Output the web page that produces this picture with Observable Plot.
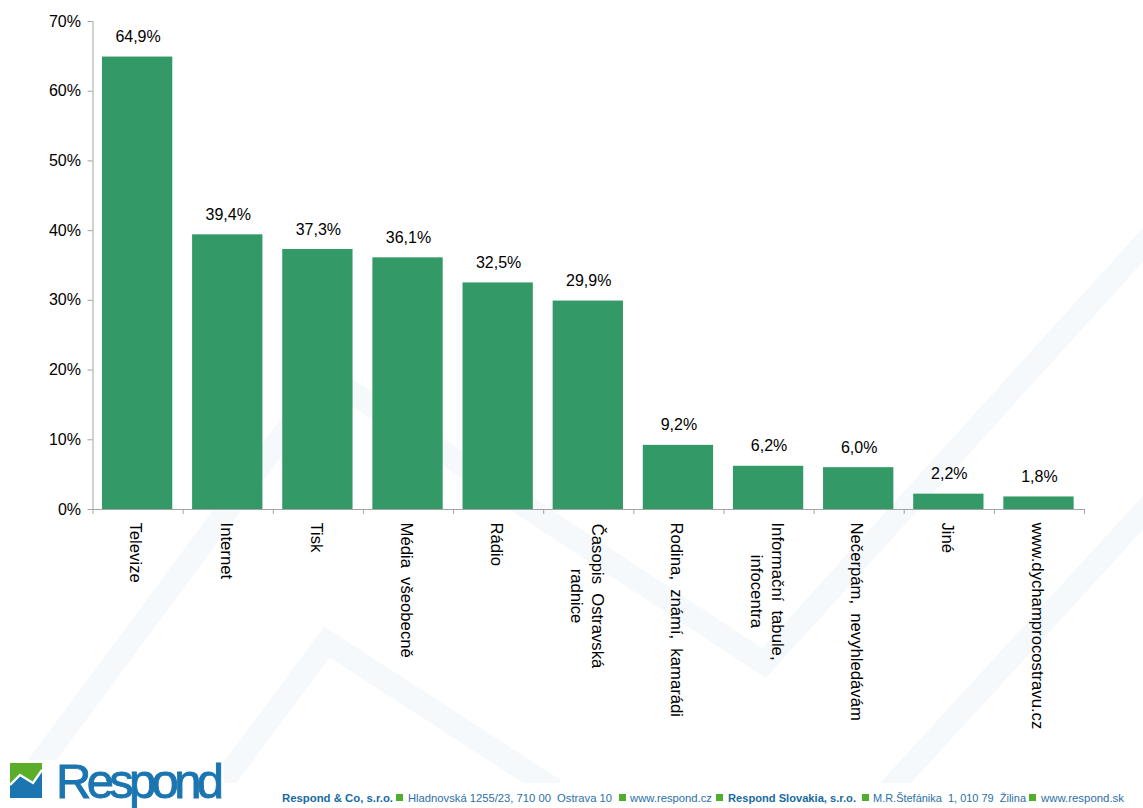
<!DOCTYPE html>
<html lang="cs">
<head>
<meta charset="utf-8">
<title>Zdroje informací</title>
<script src="https://cdn.jsdelivr.net/npm/d3@7"></script>
<script src="https://cdn.jsdelivr.net/npm/@observablehq/plot@0.6"></script>
<style>
  html, body { margin: 0; padding: 0; background: #fff; }
  #page { position: relative; width: 1143px; height: 808px; overflow: hidden; word-spacing: 4.5px; }
  #page > svg { position: absolute; left: 0; top: 0; }
</style>
</head>
<body>
<div id="page"></div>
<script>
// Information sources, share of respondents in percent
const categories = [
  "Televize", "Internet", "Tisk", "Média všeobecně", "Rádio",
  "Časopis Ostravská\nradnice", "Rodina, známí, kamarádi",
  "Informační tabule,\ninfocentra", "Nečerpám, nevyhledávám",
  "Jiné", "www.dychamprocostravu.cz"
];
const values = [64.9, 39.4, 37.3, 36.1, 32.5, 29.9, 9.2, 6.2, 6.0, 2.2, 1.8];
const yTicks = [0, 10, 20, 30, 40, 50, 60, 70];

const rows = categories.map((name, i) => ({name, value: values[i], i}));
const singleLine = rows.filter((d) => !d.name.includes("\n"));
const wrapped = rows.filter((d) => d.name.includes("\n"));

// Company footer, split into runs of plain and bold text
const footerRuns = [
  {text: "Respond & Co, s.r.o.", x: 282, w: 111, bold: true},
  {text: "Hladnovská 1255/23, 710 00  Ostrava 10", x: 408, w: 204},
  {text: "www.respond.cz", x: 630, w: 82},
  {text: "Respond Slovakia, s.r.o.", x: 728, w: 128, bold: true},
  {text: "M.R.Štefánika  1, 010 79  Žilina", x: 873, w: 153},
  {text: "www.respond.sk", x: 1041, w: 83}
];
const footerSquares = [396, 619, 716, 862, 1029];

const page = d3.select("#page");
const axisColor = "#a3a3a3";
const font = "'Liberation Sans', Arial, sans-serif";

// Decorative layer behind the chart: the pale zigzag, the logo and the footer
const deco = page.append("svg").attr("width", 1143).attr("height", 808)
  .attr("viewBox", "0 0 1143 808");
deco.append("defs").append("clipPath").attr("id", "wm")
  .append("rect").attr("width", 1143).attr("height", 783);
const zigzags = [
  [[20, 790], [326.7, 376], [764, 663], [1200, 182]],
  [[217, 790], [327, 642], [555, 790]],
  [[889, 790], [1250, 396]]
];
deco.append("g").attr("clip-path", "url(#wm)")
  .selectAll("path").data(zigzags).join("path")
  .attr("d", d3.line())
  .attr("fill", "none")
  .attr("stroke", "#f6f9fc")
  .attr("stroke-width", 23)
  .attr("stroke-linejoin", "miter")
  .attr("stroke-miterlimit", 10);

// Logo
deco.append("rect").attr("x", 0).attr("y", 760).attr("width", 224).attr("height", 48).attr("fill", "#fff");
deco.append("rect").attr("x", 10).attr("y", 763).attr("width", 32).attr("height", 35).attr("fill", "#5aae2a");
deco.append("path").attr("d", "M10 785L20 775L33 783L42 770V798H10Z").attr("fill", "#1a75b0");
deco.append("path").attr("d", "M10 785L20 775L33 783L42 770").attr("fill", "none")
  .attr("stroke", "#fff").attr("stroke-width", 2.4);
deco.append("text").text("Respond")
  .attr("x", 56).attr("y", 798)
  .attr("font-family", font).attr("font-size", 49)
  .attr("fill", "#1a75b0").attr("stroke", "#1a75b0").attr("stroke-width", 0.9)
  .attr("textLength", 168).attr("lengthAdjust", "spacing");

// Footer
deco.selectAll("rect.sq").data(footerSquares).join("rect").attr("class", "sq")
  .attr("x", (d) => d).attr("y", 794).attr("width", 7).attr("height", 7).attr("fill", "#4fae2e");
deco.selectAll("text.run").data(footerRuns).join("text").attr("class", "run")
  .text((d) => d.text)
  .attr("x", (d) => d.x).attr("y", 802)
  .attr("font-family", font).attr("font-size", 11)
  .attr("font-weight", (d) => d.bold ? 700 : 400)
  .attr("fill", (d) => d.bold ? "#176aa3" : "#2a70a9")
  .attr("textLength", (d) => d.w).attr("lengthAdjust", "spacingAndGlyphs")
  .style("white-space", "pre")
  .style("word-spacing", "0");

const valueStyle = {fill: "#000", fontSize: 16};
const nameStyle = {fill: "#000", fontSize: 16.7, lineHeight: 1.25, rotate: 90};

// Offset of each two-line name along the axis, set by the length of its longer line
const wrappedOffset = {5: 86.5, 7: 82};

const chart = Plot.plot({
  width: 1143,
  height: 808,
  marginTop: 21,
  marginLeft: 92.5,
  marginRight: 59,
  marginBottom: 299,
  style: {background: "transparent", fontFamily: font, fontSize: "16px", color: "#000"},
  x: {type: "linear", domain: [0, categories.length]},
  y: {domain: [0, 70]},
  marks: [
    Plot.rectY(rows, {
      x1: (d) => d.i + 0.105,
      x2: (d) => d.i + 0.885,
      y: "value",
      fill: "#339966"
    }),
    Plot.axisY({
      ticks: yTicks,
      tickSize: 5,
      tickPadding: 7,
      stroke: axisColor,
      color: "#000",
      label: null,
      tickFormat: (d) => `${d}%`
    }),
    Plot.axisX({
      ticks: d3.range(categories.length + 1),
      tickSize: 5,
      stroke: axisColor,
      label: null,
      tickFormat: () => ""
    }),
    Plot.ruleX([0], {stroke: axisColor}),
    Plot.ruleY([0], {stroke: axisColor}),
    // Values above the bars, with a decimal comma
    Plot.text(rows, {
      x: (d) => d.i + 0.5,
      y: "value",
      text: (d) => `${d.value.toFixed(1).replace(".", ",")}%`,
      dy: -20,
      ...valueStyle
    }),
    // Category names read top to bottom below the axis
    Plot.text(singleLine, {
      x: (d) => d.i + 0.5,
      y: 0,
      text: "name",
      textAnchor: "start",
      dy: 13,
      dx: -1,
      ...nameStyle
    }),
    // Two-line names are centred on the longer line
    ...wrapped.map((d) => Plot.text([d], {
      x: (r) => r.i + 0.5,
      y: 0,
      text: "name",
      textAnchor: "middle",
      dy: wrappedOffset[d.i],
      dx: -1,
      ...nameStyle
    }))
  ]
});
page.node().appendChild(chart);
</script>
</body>
</html>
